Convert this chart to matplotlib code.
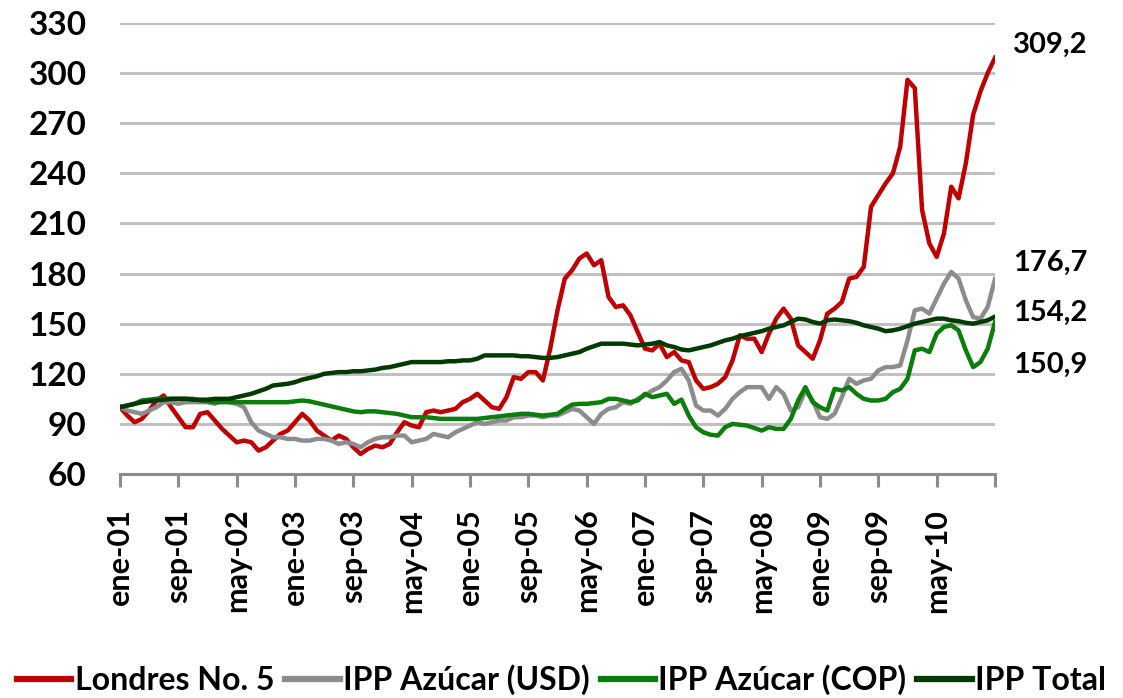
import matplotlib
matplotlib.use("Agg")
import matplotlib.pyplot as plt
import matplotlib.transforms as mtransforms
import numpy as np

# ---------------- data ----------------
tick_labels = ["ene-01", "sep-01", "may-02", "ene-03", "sep-03", "may-04", "ene-05",
               "sep-05", "may-06", "ene-07", "sep-07", "may-08", "ene-09", "sep-09",
               "may-10", ""]

londres = [100, 95, 91, 93, 98, 104, 107, 100, 94, 88, 88, 96, 97, 92, 87, 83, 79, 80, 79, 74,
           76, 80, 84, 86, 91, 96, 92, 86, 83, 80, 83, 81, 76, 72, 75, 77, 76, 78, 85, 91,
           89, 88, 97, 98, 97, 98, 99, 103, 105, 108, 104, 100, 99, 106, 118, 117, 121, 121, 116, 135,
           158, 177, 182, 189, 192, 185, 188, 166, 160, 161, 155, 145, 135, 134, 138, 130, 133, 128, 127, 116,
           111, 112, 114, 118, 128, 143, 141, 141, 133, 144, 153, 159, 153, 137, 133, 129, 140, 156, 159, 163,
           177, 178, 184, 220, 227, 234, 240, 256, 296, 291, 218, 198, 190, 204, 232, 225, 246, 275, 289, 300,
           309.2]

ipp_usd = [100, 98, 97, 96, 98, 100, 103, 103, 102, 103, 103, 103, 103, 102, 104, 103, 102, 100, 91, 86,
           84, 82, 82, 81, 81, 80, 80, 81, 81, 80, 78, 79, 78, 76, 79, 81, 82, 82, 83, 83,
           79, 80, 81, 84, 83, 82, 85, 87, 89, 91, 90, 91, 92, 92, 94, 94, 95, 95, 94, 95,
           95, 97, 99, 98, 94, 90, 96, 99, 100, 103, 102, 105, 107, 110, 112, 116, 121, 123, 116, 101,
           98, 98, 95, 99, 105, 109, 112, 112, 112, 105, 112, 108, 98, 100, 110, 104, 94, 93, 96, 106,
           117, 114, 116, 117, 122, 124, 124, 125, 140, 158, 159, 156, 165, 174, 181, 177, 164, 154, 153, 160,
           176.7]

ipp_cop = [100, 101, 102, 104, 104.5, 105, 105, 105, 105, 105, 105, 104, 103.5, 103, 103, 103, 103, 103, 103, 103,
           103, 103, 103, 103, 103.5, 104, 103.5, 102.5, 101.5, 100.5, 99.5, 98.5, 97.5, 97, 97.5, 97.5, 97, 96.5, 96, 95,
           94, 94, 94, 93.5, 93, 93, 93, 93, 93, 93, 93.5, 94, 94.5, 95, 95.5, 96, 96, 95.5, 95, 95.5,
           96, 99, 101.5, 102, 102, 102.5, 103, 105, 105, 104, 103, 104, 108, 106, 107, 108, 102, 104.5, 95, 88,
           85, 83.5, 83, 88, 90, 89.5, 89, 87.5, 86, 88, 87, 87, 93, 104, 112, 103, 100, 98, 111, 110,
           112, 108, 105, 104, 104, 105, 109, 111, 117, 134, 135, 133, 144, 148, 149, 146, 134, 124, 127, 135,
           150.9]

ipp_total = [100, 101, 102, 103, 103.5, 104, 104.5, 105, 105, 105, 104.5, 104.5, 104.5, 105, 105, 105, 106, 107, 108, 109.5,
             111, 113, 113.5, 114, 115, 116.5, 117.5, 118.5, 120, 120.5, 121, 121, 121.5, 121.5, 122, 122.5, 123.5, 124, 125, 126,
             127, 127, 127, 127, 127, 127.5, 127.5, 128, 128, 129, 131, 131, 131, 131, 131, 130.5, 130.5, 130, 129.5, 129.5,
             130, 131, 132, 133, 135, 136.5, 138, 138, 138, 138, 137.5, 137, 137.5, 138, 139, 137, 136, 134.5, 134, 135,
             136, 137, 138.5, 140, 141, 142.5, 143.5, 144.5, 145.5, 147, 148, 149, 151, 153, 152.5, 151, 150, 152, 152.5, 152,
             151.5, 150.5, 149, 148, 147, 145.5, 146, 147, 148.5, 150, 151, 152, 153, 153, 152, 151.5, 150.5, 150, 151, 152,
             154.2]

series_names = ["Londres No. 5", "IPP Azúcar (USD)", "IPP Azúcar (COP)", "IPP Total"]
series_colors = ["#C00000", "#8C8C8C", "#0A7D0A", "#003A00"]
end_labels = ["309,2", "176,7", "150,9", "154,2"]

# ---------------- plot ----------------
plt.rcParams['font.family'] = ['Lato', 'DejaVu Sans']

W, H = 1123, 698
fig = plt.figure(figsize=(W / 100, H / 100), dpi=100)
ax = fig.add_axes([120 / W, 1 - 474 / H, (995 - 120) / W, (474 - 23) / H])

all_series = [londres, ipp_usd, ipp_cop, ipp_total]
x = np.arange(len(londres))
for vals, name, col in zip(all_series, series_names, series_colors):
    ax.plot(x, vals, color=col, lw=3.2, label=name, solid_joinstyle='round', zorder=3)

ax.set_xlim(0, 120)
ax.set_ylim(60, 330)
ax.set_yticks(np.arange(60, 331, 30))
ax.set_xticks(np.arange(0, 121, 8))
ax.set_xticklabels(tick_labels, rotation=90, fontsize=22, fontweight='bold', va='top')
for lab in ax.get_yticklabels():
    lab.set_fontsize(24)
    lab.set_fontweight('bold')

ax.grid(axis='y', color='#C0C0C0', lw=2.2, zorder=0)
ax.set_axisbelow(True)
for s in ['left', 'right', 'top']:
    ax.spines[s].set_visible(False)
ax.spines['bottom'].set_color('#8C8C8C')
ax.spines['bottom'].set_linewidth(2.2)
ax.tick_params(axis='y', length=0, pad=24)
ax.tick_params(axis='x', length=9, width=2.2, color='#8C8C8C', pad=16)

# end value labels (vertical positions in figure pixels from the top)
label_pix_y = {"309,2": 45, "176,7": 263, "154,2": 313, "150,9": 365}
for lab in end_labels:
    fig.text(1013 / W, 1 - label_pix_y[lab] / H, lab, ha='left', va='center',
             fontsize=21, fontweight='bold')

leg = fig.legend(loc='center', bbox_to_anchor=(0.5, 1 - 680 / H), ncol=4, frameon=False,
                 fontsize=23, handlelength=1.7, handletextpad=0.1, columnspacing=0.35,
                 borderpad=0, borderaxespad=0)
for t in leg.get_texts():
    t.set_fontweight('bold')
for h in leg.get_lines():
    h.set_linewidth(4.5)

fig.savefig("out.png", dpi=100)
